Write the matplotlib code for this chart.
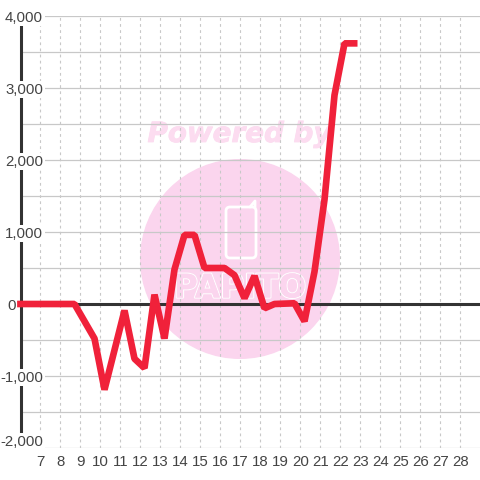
import matplotlib
matplotlib.use("Agg")
import matplotlib.pyplot as plt
import matplotlib.patheffects as pe
from matplotlib.patches import Circle, FancyBboxPatch
from matplotlib.transforms import offset_copy

plt.rcParams["font.family"] = ["Liberation Sans", "DejaVu Sans"]

x_ticks = list(range(7, 29))
y_major = [4000, 3000, 2000, 1000, 0, -1000, -2000]
y_labels = ["4,000", "3,000", "2,000", "1,000", "0", "-1,000", "-2,000"]
y_grid = [-2000, -1500, -1000, -500, 0, 500, 1000, 1500, 2000, 2500, 3000, 3500, 4000]

days = [5.83, 8.7, 9.7, 10.2, 11.2, 11.7, 12.2, 12.7, 13.2, 13.7, 14.2, 14.7, 15.2,
        16.2, 16.7, 17.2, 17.7, 18.2, 18.7, 19.7, 20.2, 20.7, 21.2, 21.7, 22.2, 22.85]
values = [0, 0, -480, -1190, -90, -760, -890, 130, -480, 480, 960, 960, 500,
          500, 400, 80, 390, -60, 0, 10, -240, 450, 1450, 2900, 3620, 3620]

pink = "#fbd5ee"

fig = plt.figure(figsize=(4.8, 4.8), dpi=100)

# watermark sits behind everything, in pixel coords
bg = fig.add_axes([0, 0, 1, 1], zorder=0)
bg.set_xlim(0, 480)
bg.set_ylim(480, 0)
bg.axis("off")
bg.add_patch(Circle((240, 259), 100, color=pink, lw=0))
bg.add_patch(FancyBboxPatch((226, 207), 30, 51, boxstyle="round,pad=0,rounding_size=4",
                            fc="none", ec="white", lw=2))
bg.plot([250, 255, 255], [207, 201, 207], color="white", lw=2, solid_capstyle="round")
bg.text(239.5, 134, "Powered by", color="#fcdcf0", fontsize=20, fontweight="bold",
        fontstyle="italic", family="DejaVu Sans", ha="center", va="center",
        path_effects=[pe.withStroke(linewidth=0.6, foreground="#fcdcf0")])
bg.text(240, 288, "PAPITO", color=pink, fontsize=23.5, ha="center", va="center",
        family="DejaVu Sans", fontweight="bold",
        path_effects=[pe.withStroke(linewidth=1.6, foreground="white"),
                      pe.Normal()])

ax = fig.add_axes([20.5 / 480, 32 / 480, 459.5 / 480, 432 / 480], zorder=1)
ax.patch.set_alpha(0)
ax.set_xlim(7 - (40.5 - 20.5) / 20, 7 + (480 - 40.5) / 20)
ax.set_ylim(-2000, 4000)

for s in ["top", "right", "bottom"]:
    ax.spines[s].set_visible(False)
ax.spines["left"].set_linewidth(2.2)
ax.spines["left"].set_color("#333333")
ax.spines["left"].set_zorder(3)

ax.set_axisbelow(True)
ax.set_xticks(x_ticks)
ax.set_xticklabels([str(d) for d in x_ticks], fontsize=10.8, color="#444444")
ax.set_yticks(y_grid)
ax.set_yticklabels([])
ax.tick_params(length=0, pad=5)
ax.grid(True, axis="y", color="#c8c8c8", lw=0.9)
ax.grid(True, axis="x", color="#c8c8c8", lw=0.8, ls=(0, (2.5, 3)))

ax.axhline(0, color="#333333", lw=2.2, zorder=3)
ax.plot(days, values, color="#f0213a", lw=4.8, solid_joinstyle="bevel",
        solid_capstyle="butt", clip_on=False, zorder=4)

for v, lab in zip(y_major, y_labels):
    dy = 6 if v == -2000 else -1.5
    dx = -27 if v == 0 else 0
    tr = offset_copy(ax.get_yaxis_transform(), fig=fig, x=(22.5 + dx) * 0.72, y=dy * 0.72, units="points")
    ax.text(0, v, lab, transform=tr, ha="right", va="center", fontsize=10.8, color="#444444",
            zorder=5, clip_on=False,
            bbox=dict(fc="white", ec="none", pad=1.2) if v != 0 else None)

fig.savefig("out.png", dpi=100)
